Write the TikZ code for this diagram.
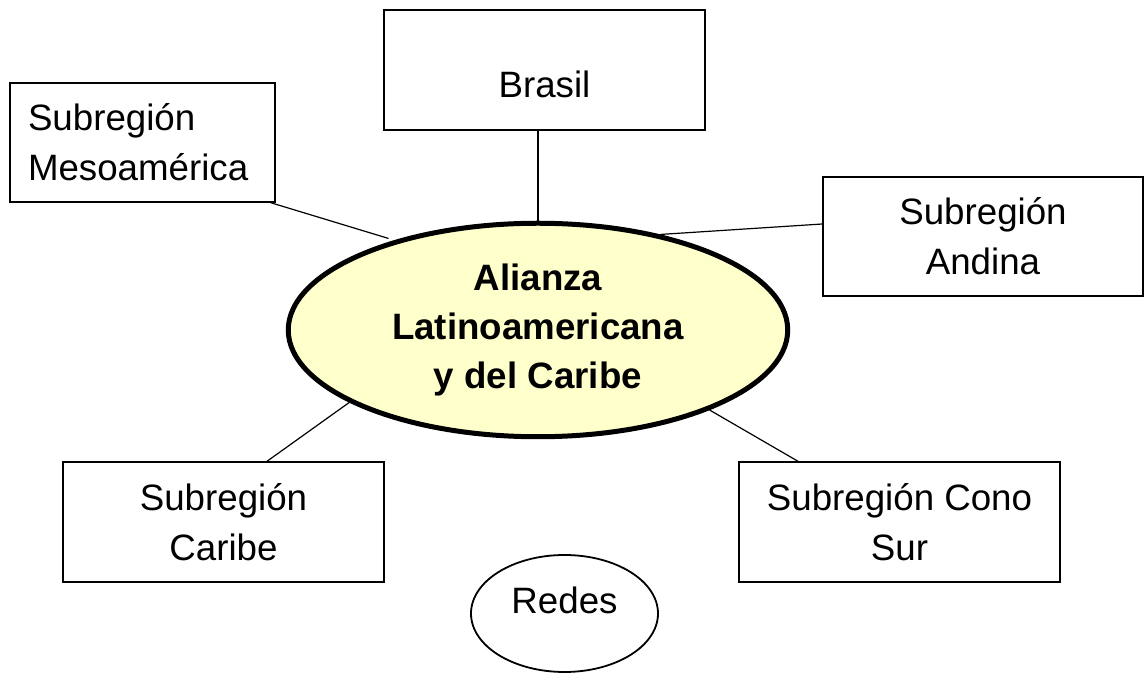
\documentclass[tikz,border=0pt]{standalone}
\usepackage{fontspec}
\setmainfont{Liberation Sans}
\usetikzlibrary{shapes.geometric}
\definecolor{amarillo}{HTML}{FFFFCC}
\begin{document}
\begin{tikzpicture}
[
    x=0.5pt, y=-0.5pt,
    caja/.style={draw, line width=0.7pt, rectangle, minimum width=160.5pt, minimum height=60pt, align=center, font=\fontsize{18.35}{25}\selectfont},
    linea/.style={line width=0.6pt},
]
\useasboundingbox (0,0) rectangle (1148,673);
\node[caja, text height=27.5pt, text depth=0pt] (brasil) at (544.5,70) {Brasil};
\node[caja, align=left, text width=114.5pt, inner xsep=9pt, minimum width=132.5pt, minimum height=59.5pt] (meso) at (142.5,142.5) {Subregión\\Mesoamérica};
\node[caja, minimum width=160pt, minimum height=59.5pt] (andina) at (983,236.5) {Subregión\\Andina};
\node[caja] (caribe) at (223.5,522) {Subregión\\Caribe};
\node[caja] (cono) at (899.5,522) {Subregión Cono\\Sur};
\node[draw, ellipse, line width=2.5pt, fill=amarillo, inner sep=0pt, minimum width=249.75pt, minimum height=106.75pt, align=center, font=\bfseries\fontsize{18.35}{24.5}\selectfont] (alianza) at (538,330) {Alianza\\Latinoamericana\\y del Caribe};
\node[draw, ellipse, line width=0.9pt, inner sep=0pt, minimum width=93.5pt, minimum height=58.5pt, text height=13pt, text depth=13pt, font=\fontsize{18.35}{25}\selectfont] (redes) at (564.5,613.5) {Redes};
\draw[linea] (brasil.south -| alianza.north) -- (alianza.north);
\draw[linea, shorten >=3pt] ([xshift=-2.5pt]meso.south east) -- (alianza.148);
\draw[linea] ([yshift=6.25pt]andina.west) -- (alianza.38);
\draw[linea] ([xshift=21.75pt]caribe.north) -- (alianza.201);
\draw[linea] ([xshift=-50.75pt]cono.north) -- (alianza.335);
\end{tikzpicture}
\end{document}
